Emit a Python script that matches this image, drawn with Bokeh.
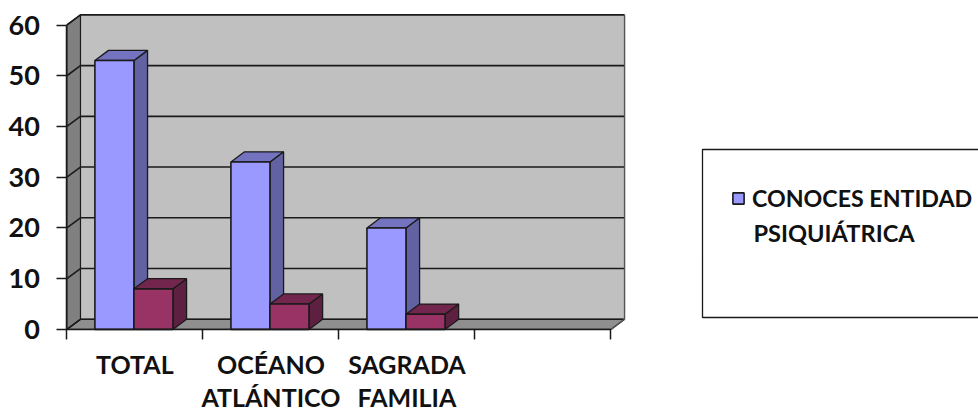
from bokeh.embed import file_html
from bokeh.resources import INLINE
from bokeh.plotting import figure
from bokeh.models import (Range1d, FixedTicker, LinearAxis, Legend, LegendItem,
                          BoxAnnotation, Label)

categories = ["TOTAL", "OCÉANO\nATLÁNTICO", "SAGRADA\nFAMILIA"]
conoces = [53, 33, 20]
segunda = [8, 5, 3]
y_ticks = [0, 10, 20, 30, 40, 50, 60]
legend_lines = ["CONOCES ENTIDAD", "PSIQUIÁTRICA"]

SLOTS = 4
DX, DY = 0.1, 2.0          # 3D depth in data units
BAR_W, BAR_OFF = 0.287, 0.206
YMAX = 60
FONT = "Lato"
INK = "#1a1a1a"
TXT = "#111111"

p = figure(width=978, height=414, output_backend="svg", toolbar_location=None,
           x_range=Range1d(-0.488, 6.702), y_range=Range1d(-16.77, 64.83),
           x_axis_type=None, y_axis_type=None,
           min_border_left=0, min_border_top=0, min_border_right=0, min_border_bottom=0)
p.grid.visible = False
p.outline_line_color = None
p.background_fill_color = "white"
p.border_fill_color = "white"

# walls and floor
p.patch([DX, SLOTS + DX, SLOTS + DX, DX], [DY, DY, YMAX + DY, YMAX + DY],
        fill_color="#C0C0C0", line_color=None)
p.patch([0, DX, DX, 0], [0, DY, YMAX + DY, YMAX],
        fill_color="#808080", line_color=INK, line_width=1.2)
p.patch([0, SLOTS, SLOTS + DX, DX], [0, 0, DY, DY],
        fill_color="#8F8F8F", line_color=INK, line_width=1.2)

# gridlines and wall edges
p.multi_line([[0, DX, SLOTS + DX] for _ in y_ticks],
             [[v, v + DY, v + DY] for v in y_ticks],
             line_color=INK, line_width=1.6)
p.line([SLOTS, SLOTS + DX, SLOTS + DX], [0, DY, YMAX + DY], line_color="#555555", line_width=1.4)


def bars(values, offset, front, top, side):
    lefts = [i + offset for i in range(len(values))]
    rights = [x + BAR_W for x in lefts]
    p.patches([[r, r + DX, r + DX, r] for r in rights],
              [[0, DY, v + DY, v] for v in values],
              fill_color=side, line_color=INK, line_width=1.3)
    p.patches([[l, r, r + DX, l + DX] for l, r in zip(lefts, rights)],
              [[v, v, v + DY, v + DY] for v in values],
              fill_color=top, line_color=INK, line_width=1.3)
    return p.vbar(x=[(l + r) / 2 for l, r in zip(lefts, rights)], top=values, bottom=0,
                  width=BAR_W, fill_color=front, line_color=INK, line_width=1.6)


r1 = bars(conoces, BAR_OFF, "#9999FF", "#7373BF", "#6262A3")
r2 = bars(segunda, BAR_OFF + BAR_W, "#993366", "#73264D", "#5E2040")

# axes
yax = LinearAxis(ticker=FixedTicker(ticks=y_ticks, minor_ticks=[]), bounds=(0, YMAX),
                 fixed_location=0,
                 major_tick_in=0, major_tick_out=10, major_tick_line_width=1.5,
                 major_tick_line_color=INK, axis_line_color=INK, axis_line_width=1.5,
                 major_label_standoff=17, major_label_text_font=FONT,
                 major_label_text_font_style="bold", major_label_text_font_size="27px",
                 major_label_text_color=TXT)
p.add_layout(yax, "left")

centers = [i + 0.5 for i in range(len(categories))]
xax = LinearAxis(ticker=FixedTicker(ticks=centers, minor_ticks=list(range(SLOTS + 1))),
                 bounds=(0, SLOTS), fixed_location=0,
                 major_label_overrides={c: t for c, t in zip(centers, categories)},
                 major_tick_in=0, major_tick_out=0, minor_tick_in=0, minor_tick_out=10,
                 minor_tick_line_width=1.5, minor_tick_line_color=INK,
                 axis_line_color=INK, axis_line_width=1.5,
                 major_label_standoff=10, major_label_text_font=FONT,
                 major_label_text_font_style="bold", major_label_text_font_size="25px",
                 major_label_text_color=TXT, major_label_text_line_height=1.1)
p.add_layout(xax, "below")

# legend box
p.add_layout(BoxAnnotation(left=702, right=1000, top=149, bottom=317,
                           left_units="canvas", right_units="canvas",
                           top_units="canvas", bottom_units="canvas",
                           fill_color="white", fill_alpha=1.0,
                           line_color=INK, line_alpha=1.0, line_width=1.3, level="overlay"))
leg = Legend(items=[LegendItem(label=legend_lines[0], renderers=[r1])],
             location=(731, 202), padding=0, margin=0, spacing=0,
             border_line_color=None, background_fill_alpha=0,
             glyph_width=14, glyph_height=14, label_standoff=7,
             label_text_font=FONT, label_text_font_style="bold",
             label_text_font_size="23.2px", label_text_color=TXT)
p.add_layout(leg, "center")
p.add_layout(Label(x=753, y=232, x_units="canvas", y_units="canvas", text=legend_lines[1],
                   text_font=FONT, text_font_style="bold", text_font_size="23.6px",
                   text_color=TXT, text_baseline="middle", level="overlay"))

open("out.html", "w").write(file_html(p, INLINE))
